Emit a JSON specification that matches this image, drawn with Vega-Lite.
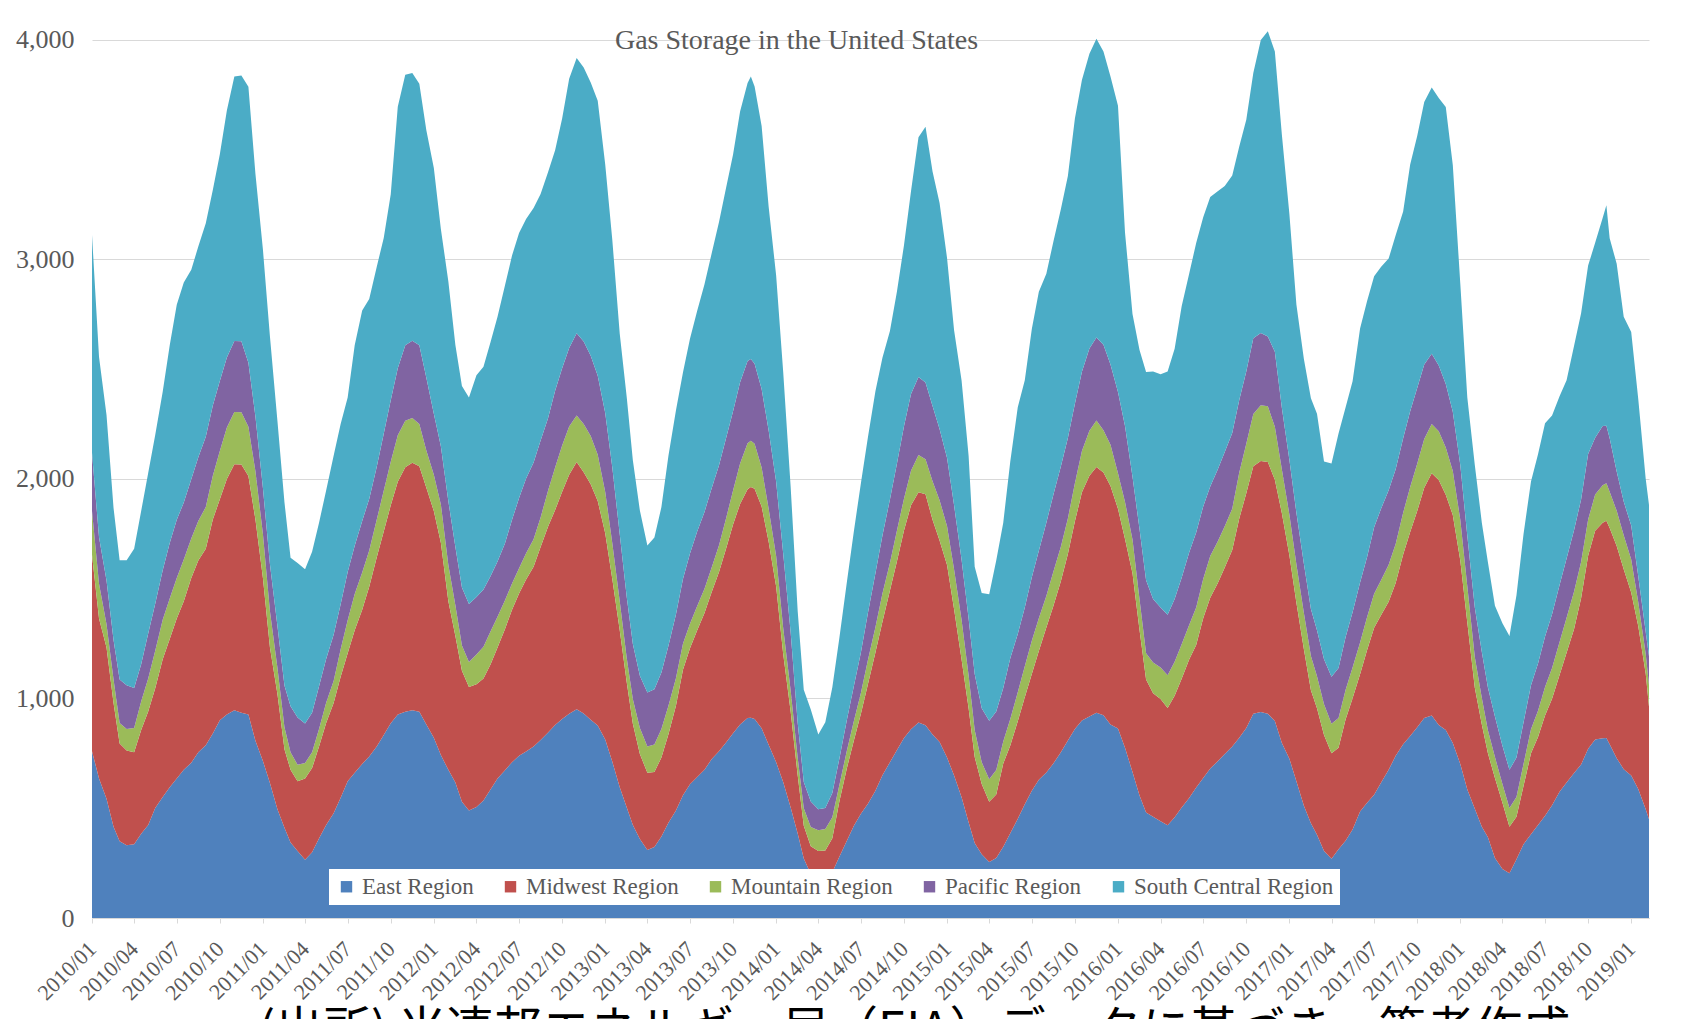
{
"$schema":"https://vega.github.io/schema/vega-lite/v6.json",
"width":1557,"height":900,
"autosize":{"type":"none"},
"padding":{"left":92,"top":18,"right":33,"bottom":101},
"background":"white",
"config":{"view":{"stroke":null},"font":"Liberation Serif"},
"title":{"text":"Gas Storage in the United States","anchor":"middle","offset":-37,"dx":-74,"font":"Liberation Serif","fontSize":28,"fontWeight":"normal","color":"#595959"},
"data":{"values":[
{"d":"2010-01-01","E":760,"M":895,"Mo":199,"P":265,"S":993},
{"d":"2010-01-16","E":636,"M":728,"Mo":159,"P":212,"S":821},
{"d":"2010-02-01","E":543,"M":689,"Mo":106,"P":199,"S":755},
{"d":"2010-02-16","E":416,"M":564,"Mo":106,"P":180,"S":602},
{"d":"2010-03-01","E":350,"M":445,"Mo":93,"P":199,"S":543},
{"d":"2010-03-16","E":331,"M":432,"Mo":98,"P":199,"S":570},
{"d":"2010-04-01","E":336,"M":419,"Mo":110,"P":183,"S":634},
{"d":"2010-04-16","E":384,"M":472,"Mo":130,"P":170,"S":698},
{"d":"2010-05-01","E":424,"M":517,"Mo":150,"P":205,"S":731},
{"d":"2010-05-16","E":501,"M":546,"Mo":170,"P":215,"S":768},
{"d":"2010-06-01","E":551,"M":628,"Mo":180,"P":225,"S":813},
{"d":"2010-06-16","E":596,"M":675,"Mo":185,"P":252,"S":901},
{"d":"2010-07-01","E":636,"M":728,"Mo":185,"P":265,"S":980},
{"d":"2010-07-16","E":675,"M":768,"Mo":190,"P":260,"S":1002},
{"d":"2010-08-01","E":707,"M":842,"Mo":180,"P":270,"S":954},
{"d":"2010-08-16","E":755,"M":874,"Mo":180,"P":290,"S":960},
{"d":"2010-09-01","E":787,"M":895,"Mo":190,"P":320,"S":973},
{"d":"2010-09-16","E":840,"M":975,"Mo":200,"P":320,"S":982},
{"d":"2010-10-01","E":901,"M":1007,"Mo":220,"P":318,"S":1033},
{"d":"2010-10-16","E":927,"M":1073,"Mo":235,"P":318,"S":1126},
{"d":"2010-11-01","E":946,"M":1121,"Mo":238,"P":323,"S":1205},
{"d":"2010-11-16","E":935,"M":1131,"Mo":238,"P":323,"S":1211},
{"d":"2010-12-01","E":927,"M":1086,"Mo":225,"P":291,"S":1258},
{"d":"2010-12-16","E":808,"M":1007,"Mo":220,"P":250,"S":1105},
{"d":"2011-01-01","E":715,"M":834,"Mo":200,"P":210,"S":1086},
{"d":"2011-01-16","E":615,"M":617,"Mo":165,"P":215,"S":1037},
{"d":"2011-02-01","E":495,"M":525,"Mo":120,"P":190,"S":934},
{"d":"2011-02-16","E":411,"M":358,"Mo":100,"P":190,"S":835},
{"d":"2011-03-01","E":344,"M":331,"Mo":80,"P":210,"S":676},
{"d":"2011-03-16","E":305,"M":318,"Mo":75,"P":215,"S":704},
{"d":"2011-04-01","E":265,"M":371,"Mo":70,"P":180,"S":703},
{"d":"2011-04-16","E":299,"M":384,"Mo":72,"P":180,"S":734},
{"d":"2011-05-01","E":363,"M":419,"Mo":80,"P":195,"S":745},
{"d":"2011-05-16","E":424,"M":464,"Mo":93,"P":199,"S":768},
{"d":"2011-06-01","E":477,"M":503,"Mo":100,"P":210,"S":816},
{"d":"2011-06-16","E":548,"M":551,"Mo":125,"P":205,"S":822},
{"d":"2011-07-01","E":623,"M":583,"Mo":150,"P":220,"S":795},
{"d":"2011-07-16","E":662,"M":649,"Mo":165,"P":220,"S":913},
{"d":"2011-08-01","E":702,"M":702,"Mo":170,"P":235,"S":959},
{"d":"2011-08-16","E":736,"M":773,"Mo":165,"P":235,"S":911},
{"d":"2011-09-01","E":781,"M":861,"Mo":172,"P":240,"S":912},
{"d":"2011-09-16","E":834,"M":927,"Mo":185,"P":260,"S":892},
{"d":"2011-10-01","E":887,"M":993,"Mo":199,"P":280,"S":938},
{"d":"2011-10-16","E":927,"M":1060,"Mo":212,"P":305,"S":1192},
{"d":"2011-11-01","E":940,"M":1113,"Mo":212,"P":344,"S":1232},
{"d":"2011-11-16","E":946,"M":1128,"Mo":204,"P":352,"S":1219},
{"d":"2011-12-01","E":940,"M":1118,"Mo":193,"P":358,"S":1192},
{"d":"2011-12-16","E":882,"M":1078,"Mo":170,"P":331,"S":1128},
{"d":"2012-01-01","E":821,"M":1033,"Mo":165,"P":278,"S":1120},
{"d":"2012-01-16","E":742,"M":967,"Mo":175,"P":265,"S":990},
{"d":"2012-02-01","E":675,"M":768,"Mo":165,"P":291,"S":1001},
{"d":"2012-02-16","E":617,"M":668,"Mo":140,"P":265,"S":920},
{"d":"2012-03-01","E":530,"M":596,"Mo":115,"P":265,"S":918},
{"d":"2012-03-16","E":490,"M":562,"Mo":114,"P":265,"S":940},
{"d":"2012-04-01","E":506,"M":559,"Mo":135,"P":262,"S":1010},
{"d":"2012-04-16","E":535,"M":556,"Mo":145,"P":260,"S":1015},
{"d":"2012-05-01","E":585,"M":570,"Mo":150,"P":252,"S":1066},
{"d":"2012-05-16","E":636,"M":596,"Mo":140,"P":252,"S":1115},
{"d":"2012-06-01","E":673,"M":644,"Mo":130,"P":260,"S":1175},
{"d":"2012-06-16","E":710,"M":694,"Mo":120,"P":290,"S":1204},
{"d":"2012-07-01","E":739,"M":739,"Mo":115,"P":320,"S":1207},
{"d":"2012-07-16","E":758,"M":784,"Mo":120,"P":340,"S":1182},
{"d":"2012-08-01","E":781,"M":819,"Mo":125,"P":350,"S":1159},
{"d":"2012-08-16","E":811,"M":879,"Mo":135,"P":350,"S":1123},
{"d":"2012-09-01","E":845,"M":938,"Mo":164,"P":331,"S":1121},
{"d":"2012-09-16","E":879,"M":980,"Mo":193,"P":350,"S":1096},
{"d":"2012-10-01","E":906,"M":1036,"Mo":210,"P":352,"S":1138},
{"d":"2012-10-16","E":930,"M":1089,"Mo":220,"P":358,"S":1226},
{"d":"2012-11-01","E":951,"M":1126,"Mo":212,"P":375,"S":1254},
{"d":"2012-11-16","E":932,"M":1099,"Mo":220,"P":375,"S":1249},
{"d":"2012-12-01","E":903,"M":1073,"Mo":220,"P":365,"S":1245},
{"d":"2012-12-16","E":877,"M":1023,"Mo":210,"P":360,"S":1253},
{"d":"2013-01-01","E":813,"M":940,"Mo":188,"P":360,"S":1132},
{"d":"2013-01-16","E":713,"M":832,"Mo":164,"P":345,"S":1038},
{"d":"2013-02-01","E":596,"M":715,"Mo":132,"P":305,"S":914},
{"d":"2013-02-16","E":503,"M":570,"Mo":110,"P":278,"S":910},
{"d":"2013-03-01","E":424,"M":461,"Mo":111,"P":252,"S":837},
{"d":"2013-03-16","E":360,"M":387,"Mo":119,"P":238,"S":752},
{"d":"2013-04-01","E":310,"M":352,"Mo":119,"P":246,"S":670},
{"d":"2013-04-16","E":323,"M":342,"Mo":125,"P":252,"S":691},
{"d":"2013-05-01","E":371,"M":360,"Mo":130,"P":257,"S":754},
{"d":"2013-05-16","E":434,"M":403,"Mo":130,"P":273,"S":866},
{"d":"2013-06-01","E":490,"M":477,"Mo":125,"P":291,"S":929},
{"d":"2013-06-16","E":559,"M":572,"Mo":118,"P":295,"S":941},
{"d":"2013-07-01","E":609,"M":620,"Mo":112,"P":320,"S":978},
{"d":"2013-07-16","E":641,"M":668,"Mo":110,"P":340,"S":1004},
{"d":"2013-08-01","E":675,"M":715,"Mo":110,"P":350,"S":1037},
{"d":"2013-08-16","E":723,"M":760,"Mo":112,"P":360,"S":1070},
{"d":"2013-09-01","E":760,"M":816,"Mo":122,"P":365,"S":1108},
{"d":"2013-09-16","E":800,"M":882,"Mo":138,"P":366,"S":1139},
{"d":"2013-10-01","E":842,"M":951,"Mo":155,"P":360,"S":1170},
{"d":"2013-10-16","E":882,"M":1004,"Mo":185,"P":370,"S":1233},
{"d":"2013-11-01","E":911,"M":1042,"Mo":210,"P":375,"S":1266},
{"d":"2013-11-08","E":912,"M":1052,"Mo":210,"P":372,"S":1288},
{"d":"2013-11-16","E":906,"M":1049,"Mo":205,"P":365,"S":1263},
{"d":"2013-12-01","E":864,"M":1011,"Mo":177,"P":358,"S":1198},
{"d":"2013-12-16","E":789,"M":925,"Mo":150,"P":357,"S":1019},
{"d":"2014-01-01","E":710,"M":800,"Mo":139,"P":338,"S":940},
{"d":"2014-01-16","E":620,"M":584,"Mo":118,"P":340,"S":828},
{"d":"2014-02-01","E":503,"M":438,"Mo":95,"P":265,"S":663},
{"d":"2014-02-16","E":385,"M":265,"Mo":80,"P":160,"S":509},
{"d":"2014-03-01","E":271,"M":149,"Mo":80,"P":120,"S":420},
{"d":"2014-03-16","E":200,"M":127,"Mo":88,"P":116,"S":419},
{"d":"2014-04-01","E":161,"M":144,"Mo":95,"P":95,"S":341},
{"d":"2014-04-16","E":169,"M":139,"Mo":98,"P":95,"S":391},
{"d":"2014-05-01","E":208,"M":155,"Mo":96,"P":110,"S":482},
{"d":"2014-05-16","E":279,"M":252,"Mo":75,"P":120,"S":549},
{"d":"2014-06-01","E":352,"M":330,"Mo":80,"P":140,"S":627},
{"d":"2014-06-16","E":420,"M":389,"Mo":88,"P":160,"S":705},
{"d":"2014-07-01","E":475,"M":455,"Mo":95,"P":185,"S":771},
{"d":"2014-07-16","E":520,"M":545,"Mo":110,"P":215,"S":800},
{"d":"2014-08-01","E":580,"M":630,"Mo":115,"P":245,"S":830},
{"d":"2014-08-16","E":650,"M":700,"Mo":128,"P":265,"S":809},
{"d":"2014-09-01","E":710,"M":782,"Mo":125,"P":290,"S":767},
{"d":"2014-09-16","E":765,"M":860,"Mo":140,"P":305,"S":784},
{"d":"2014-10-01","E":820,"M":945,"Mo":145,"P":330,"S":825},
{"d":"2014-10-16","E":860,"M":1020,"Mo":157,"P":350,"S":924},
{"d":"2014-11-01","E":891,"M":1048,"Mo":170,"P":355,"S":1093},
{"d":"2014-11-16","E":878,"M":1052,"Mo":160,"P":350,"S":1165},
{"d":"2014-12-01","E":836,"M":978,"Mo":176,"P":342,"S":1069},
{"d":"2014-12-16","E":802,"M":918,"Mo":183,"P":325,"S":1029},
{"d":"2015-01-01","E":731,"M":877,"Mo":177,"P":310,"S":911},
{"d":"2015-01-16","E":649,"M":757,"Mo":182,"P":292,"S":798},
{"d":"2015-02-01","E":550,"M":628,"Mo":179,"P":275,"S":817},
{"d":"2015-02-16","E":436,"M":520,"Mo":150,"P":258,"S":742},
{"d":"2015-03-01","E":342,"M":392,"Mo":122,"P":255,"S":489},
{"d":"2015-03-16","E":290,"M":320,"Mo":100,"P":245,"S":525},
{"d":"2015-04-01","E":255,"M":275,"Mo":102,"P":267,"S":576},
{"d":"2015-04-16","E":273,"M":290,"Mo":111,"P":267,"S":688},
{"d":"2015-05-01","E":325,"M":379,"Mo":100,"P":244,"S":753},
{"d":"2015-05-16","E":386,"M":400,"Mo":121,"P":276,"S":897},
{"d":"2015-06-01","E":452,"M":444,"Mo":132,"P":266,"S":1033},
{"d":"2015-06-16","E":518,"M":488,"Mo":141,"P":268,"S":1035},
{"d":"2015-07-01","E":580,"M":532,"Mo":151,"P":289,"S":1131},
{"d":"2015-07-16","E":630,"M":586,"Mo":149,"P":308,"S":1180},
{"d":"2015-08-01","E":663,"M":660,"Mo":144,"P":334,"S":1134},
{"d":"2015-08-16","E":704,"M":717,"Mo":156,"P":351,"S":1153},
{"d":"2015-09-01","E":755,"M":779,"Mo":157,"P":366,"S":1172},
{"d":"2015-09-16","E":809,"M":849,"Mo":162,"P":367,"S":1193},
{"d":"2015-10-01","E":861,"M":946,"Mo":173,"P":363,"S":1299},
{"d":"2015-10-16","E":900,"M":1039,"Mo":189,"P":361,"S":1328},
{"d":"2015-11-01","E":918,"M":1097,"Mo":205,"P":374,"S":1343},
{"d":"2015-11-16","E":935,"M":1119,"Mo":212,"P":379,"S":1360},
{"d":"2015-12-01","E":924,"M":1105,"Mo":193,"P":389,"S":1336},
{"d":"2015-12-16","E":882,"M":1086,"Mo":188,"P":366,"S":1311},
{"d":"2016-01-01","E":863,"M":1001,"Mo":162,"P":370,"S":1304},
{"d":"2016-01-16","E":776,"M":951,"Mo":168,"P":346,"S":882},
{"d":"2016-02-01","E":665,"M":906,"Mo":153,"P":286,"S":742},
{"d":"2016-02-16","E":558,"M":754,"Mo":140,"P":320,"S":816},
{"d":"2016-03-01","E":481,"M":605,"Mo":120,"P":333,"S":948},
{"d":"2016-03-16","E":461,"M":563,"Mo":140,"P":289,"S":1037},
{"d":"2016-04-01","E":441,"M":557,"Mo":143,"P":274,"S":1062},
{"d":"2016-04-16","E":423,"M":534,"Mo":149,"P":275,"S":1109},
{"d":"2016-05-01","E":459,"M":554,"Mo":154,"P":286,"S":1140},
{"d":"2016-05-16","E":503,"M":587,"Mo":157,"P":303,"S":1237},
{"d":"2016-06-01","E":547,"M":631,"Mo":157,"P":330,"S":1270},
{"d":"2016-06-16","E":594,"M":650,"Mo":170,"P":342,"S":1319},
{"d":"2016-07-01","E":638,"M":727,"Mo":179,"P":331,"S":1317},
{"d":"2016-07-16","E":681,"M":778,"Mo":190,"P":317,"S":1319},
{"d":"2016-08-01","E":714,"M":811,"Mo":190,"P":328,"S":1268},
{"d":"2016-08-16","E":747,"M":850,"Mo":188,"P":338,"S":1212},
{"d":"2016-09-01","E":781,"M":895,"Mo":188,"P":345,"S":1174},
{"d":"2016-09-16","E":821,"M":999,"Mo":210,"P":330,"S":1155},
{"d":"2016-10-01","E":866,"M":1069,"Mo":225,"P":330,"S":1147},
{"d":"2016-10-16","E":930,"M":1128,"Mo":238,"P":345,"S":1209},
{"d":"2016-11-01","E":938,"M":1144,"Mo":254,"P":329,"S":1335},
{"d":"2016-11-16","E":930,"M":1147,"Mo":254,"P":318,"S":1391},
{"d":"2016-12-01","E":898,"M":1099,"Mo":241,"P":342,"S":1367},
{"d":"2016-12-16","E":797,"M":1047,"Mo":199,"P":280,"S":1245},
{"d":"2017-01-01","E":726,"M":927,"Mo":185,"P":250,"S":1120},
{"d":"2017-01-16","E":623,"M":813,"Mo":175,"P":235,"S":949},
{"d":"2017-02-01","E":511,"M":713,"Mo":165,"P":225,"S":932},
{"d":"2017-02-16","E":432,"M":606,"Mo":155,"P":215,"S":960},
{"d":"2017-03-01","E":379,"M":577,"Mo":145,"P":210,"S":986},
{"d":"2017-03-16","E":305,"M":529,"Mo":140,"P":205,"S":901},
{"d":"2017-04-01","E":270,"M":480,"Mo":135,"P":214,"S":972},
{"d":"2017-04-16","E":313,"M":463,"Mo":135,"P":228,"S":1068},
{"d":"2017-05-01","E":352,"M":552,"Mo":135,"P":240,"S":1047},
{"d":"2017-05-16","E":403,"M":598,"Mo":140,"P":252,"S":1052},
{"d":"2017-06-01","E":485,"M":625,"Mo":145,"P":273,"S":1158},
{"d":"2017-06-16","E":525,"M":696,"Mo":150,"P":274,"S":1166},
{"d":"2017-07-01","E":562,"M":760,"Mo":155,"P":303,"S":1144},
{"d":"2017-07-16","E":617,"M":763,"Mo":160,"P":325,"S":1102},
{"d":"2017-08-01","E":675,"M":766,"Mo":168,"P":340,"S":1055},
{"d":"2017-08-16","E":739,"M":787,"Mo":178,"P":340,"S":1066},
{"d":"2017-09-01","E":792,"M":864,"Mo":190,"P":340,"S":1033},
{"d":"2017-09-16","E":829,"M":930,"Mo":205,"P":345,"S":1124},
{"d":"2017-10-01","E":869,"M":985,"Mo":215,"P":345,"S":1149},
{"d":"2017-10-16","E":911,"M":1049,"Mo":222,"P":340,"S":1195},
{"d":"2017-11-01","E":922,"M":1104,"Mo":225,"P":320,"S":1212},
{"d":"2017-11-16","E":879,"M":1116,"Mo":222,"P":300,"S":1218},
{"d":"2017-12-01","E":856,"M":1072,"Mo":215,"P":290,"S":1262},
{"d":"2017-12-16","E":797,"M":1039,"Mo":200,"P":270,"S":1124},
{"d":"2018-01-01","E":702,"M":927,"Mo":185,"P":250,"S":826},
{"d":"2018-01-16","E":585,"M":761,"Mo":165,"P":230,"S":630},
{"d":"2018-02-01","E":498,"M":551,"Mo":140,"P":225,"S":650},
{"d":"2018-02-16","E":416,"M":466,"Mo":120,"P":210,"S":589},
{"d":"2018-03-01","E":368,"M":382,"Mo":105,"P":195,"S":571},
{"d":"2018-03-16","E":273,"M":365,"Mo":95,"P":185,"S":504},
{"d":"2018-04-01","E":223,"M":302,"Mo":85,"P":175,"S":558},
{"d":"2018-04-16","E":204,"M":212,"Mo":85,"P":174,"S":610},
{"d":"2018-05-01","E":268,"M":193,"Mo":90,"P":180,"S":739},
{"d":"2018-05-16","E":336,"M":265,"Mo":100,"P":190,"S":857},
{"d":"2018-06-01","E":381,"M":369,"Mo":110,"P":200,"S":929},
{"d":"2018-06-16","E":424,"M":400,"Mo":120,"P":215,"S":954},
{"d":"2018-07-01","E":466,"M":456,"Mo":130,"P":230,"S":972},
{"d":"2018-07-16","E":514,"M":485,"Mo":140,"P":245,"S":905},
{"d":"2018-08-01","E":575,"M":532,"Mo":150,"P":260,"S":860},
{"d":"2018-08-16","E":617,"M":591,"Mo":160,"P":270,"S":812},
{"d":"2018-09-01","E":660,"M":657,"Mo":170,"P":280,"S":840},
{"d":"2018-09-16","E":699,"M":758,"Mo":165,"P":285,"S":848},
{"d":"2018-10-01","E":771,"M":879,"Mo":165,"P":299,"S":858},
{"d":"2018-10-16","E":813,"M":951,"Mo":165,"P":259,"S":888},
{"d":"2018-11-01","E":819,"M":982,"Mo":170,"P":270,"S":948},
{"d":"2018-11-09","E":820,"M":990,"Mo":170,"P":262,"S":1005},
{"d":"2018-11-16","E":792,"M":985,"Mo":165,"P":243,"S":912},
{"d":"2018-12-01","E":728,"M":967,"Mo":160,"P":179,"S":946},
{"d":"2018-12-16","E":678,"M":911,"Mo":155,"P":153,"S":842},
{"d":"2019-01-01","E":649,"M":834,"Mo":150,"P":155,"S":882},
{"d":"2019-01-16","E":588,"M":742,"Mo":110,"P":118,"S":807},
{"d":"2019-02-01","E":495,"M":618,"Mo":90,"P":100,"S":697},
{"d":"2019-02-08","E":450,"M":512,"Mo":100,"P":130,"S":689}
]},
"transform":[{"fold":["E","M","Mo","P","S"],"as":["region","value"]}],
"mark":{"type":"area","interpolate":"linear","opacity":1},
"encoding":{
"x":{"field":"d","type":"temporal","scale":{"type":"utc","nice":false},
"axis":{"labelExpr":"utcFormat(datum.value, '%Y/%m')","tickCount":{"interval":"month","step":3},"labelAngle":-45,"labelAlign":"right","labelBaseline":"middle","labelPadding":22,"labelFont":"Liberation Serif","labelFontSize":22,"labelColor":"#595959","labelOverlap":false,"labelFlush":false,"labelBound":false,"domainColor":"#D9D9D9","tickColor":"#D9D9D9","tickSize":5,"grid":false,
"title":"(出所) 米連邦エネルギー局（EIA）データに基づき、筆者作成","titleFont":"Noto Sans CJK JP","titleFontSize":48,"titleFontWeight":"normal","titleColor":"#000000","titlePadding":4,"titleX":822,"titleAlign":"center"}},
"y":{"field":"value","type":"quantitative","stack":"zero","scale":{"domain":[0,4100],"nice":false},
"axis":{"values":[0,1000,2000,3000,4000],"format":",d","grid":true,"gridColor":"#D9D9D9","domain":false,"ticks":false,"labelFont":"Liberation Serif","labelFontSize":26,"labelColor":"#595959","labelPadding":18,"title":null}},
"color":{"field":"region","type":"nominal","scale":{"domain":["E","M","Mo","P","S"],"range":["#4F81BD","#C0504D","#9BBB59","#8064A2","#4BACC6"]},
"legend":{"orient":"none","legendX":237,"legendY":851,"direction":"horizontal","title":null,"fillColor":"white","padding":6,"symbolType":"square","symbolSize":130,"symbolStrokeWidth":0,"labelFont":"Liberation Serif","labelFontSize":23,"labelColor":"#595959","labelLimit":300,"columnPadding":25,"labelOffset":4,
"labelExpr":"{'E':'East Region','M':'Midwest Region','Mo':'Mountain Region','P':'Pacific Region','S':'South Central Region'}[datum.label]"}},
"order":{"field":"region","sort":"ascending"}
}
}
